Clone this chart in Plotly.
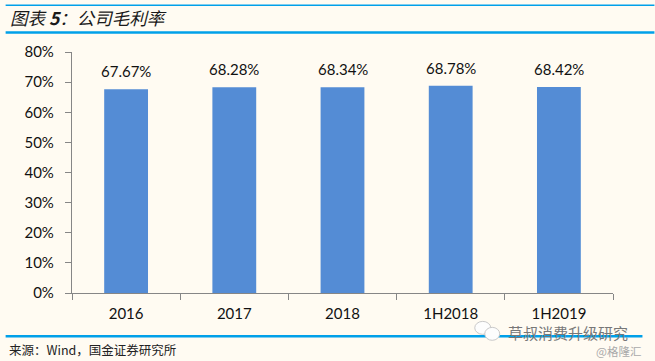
import plotly.graph_objects as go

categories = ["2016", "2017", "2018", "1H2018", "1H2019"]
margins = [67.67, 68.28, 68.34, 68.78, 68.42]
labels = ["67.67%", "68.28%", "68.34%", "68.78%", "68.42%"]
y_ticks = [0, 10, 20, 30, 40, 50, 60, 70, 80]
title_text = "<i>图表 <b>5</b>：公司毛利率</i>"
source_text = "来源：Wind，国金证券研究所"

W, H = 655, 361
L, R, T, B = 71.5, 613.5, 51.5, 293.5
BG = "#FFFBF2"
RULE = "#00A0E9"
TXT = "#111111"
CJK = "'Noto Sans CJK SC', sans-serif"
LAT = "Lato, 'Open Sans', sans-serif"


def px(x):
    return (x - L) / (R - L)


def py(y):
    return (B - y) / (B - T)


fig = go.Figure(go.Bar(
    x=categories, y=margins, width=0.405, marker=dict(color="#548CD5", line=dict(width=0)),
    hoverinfo="skip",
))
rules = [(5, 655, 4.5, 1.5), (5, 655, 32, 2.5), (5, 643, 337, 2.5)]
value_notes = [
    dict(x=i, y=v, text=t, xref="x", yref="y", showarrow=False, yanchor="bottom", yshift=7,
         font=dict(family=LAT, size=15, color=TXT))
    for i, (v, t) in enumerate(zip(margins, labels))
]
icon = [
    dict(type="circle", xref="paper", yref="paper", x0=px(x0), x1=px(x1), y0=py(y1), y1=py(y0),
         fillcolor="#FDFDFD", line=dict(color="#C9C9C9", width=1))
    for x0, x1, y0, y1 in [(475, 491, 322, 335), (485, 500, 328, 341)]
]
fig.update_layout(
    width=W, height=H, autosize=False, paper_bgcolor=BG, plot_bgcolor=BG, showlegend=False,
    margin=dict(l=L, r=W - R, t=T, b=H - B, pad=0),
    bargap=0.6,
    font=dict(family=LAT, color=TXT),
    xaxis=dict(type="category", range=[-0.5, 4.5], showgrid=False, showline=True, linecolor="#868686", linewidth=1.2,
               ticks="outside", ticklen=6, tickcolor="#868686", tickson="boundaries", ticklabelstandoff=7,
               tickfont=dict(family=LAT, size=15, color=TXT), automargin=False),
    yaxis=dict(range=[0, 80], tickvals=y_ticks, ticktext=[f"{v}%" for v in y_ticks], showgrid=False, zeroline=False,
               showline=True, linecolor="#868686", linewidth=1.2, ticks="outside", ticklen=6, tickcolor="#868686",
               ticklabelstandoff=8, tickfont=dict(family=LAT, size=15, color=TXT), automargin=False),
    shapes=[
        dict(type="line", xref="paper", yref="paper", x0=px(a), x1=px(b), y0=py(y), y1=py(y),
             line=dict(color=RULE, width=w))
        for a, b, y, w in rules
    ] + icon,
    annotations=value_notes + [
        dict(text=title_text, xref="paper", yref="paper", x=px(7), y=py(17), xanchor="left",
             yanchor="middle", showarrow=False, font=dict(family=CJK, size=17.5, color="#1a1a1a")),
        dict(text=source_text, xref="paper", yref="paper", x=px(6), y=py(350), xanchor="left",
             yanchor="middle", showarrow=False, font=dict(family=CJK, size=12.5, color="#222222")),
        dict(text="草叔消费升级研究", xref="paper", yref="paper", x=px(507), y=py(333.5), xanchor="left",
             yanchor="middle", showarrow=False, borderpad=0, font=dict(family=CJK, size=15, color="#777777")),
        dict(text="@格隆汇", xref="paper", yref="paper", x=px(595), y=py(351.5), xanchor="left",
             yanchor="middle", showarrow=False, borderpad=0, font=dict(family=CJK, size=11.5, color="#AAAAAA")),
    ],
)
fig.write_html("out.html", config={"displayModeBar": False},
               post_script="document.body.style.margin='0';document.documentElement.style.background='#FFFBF2';document.body.style.overflow='hidden';")
